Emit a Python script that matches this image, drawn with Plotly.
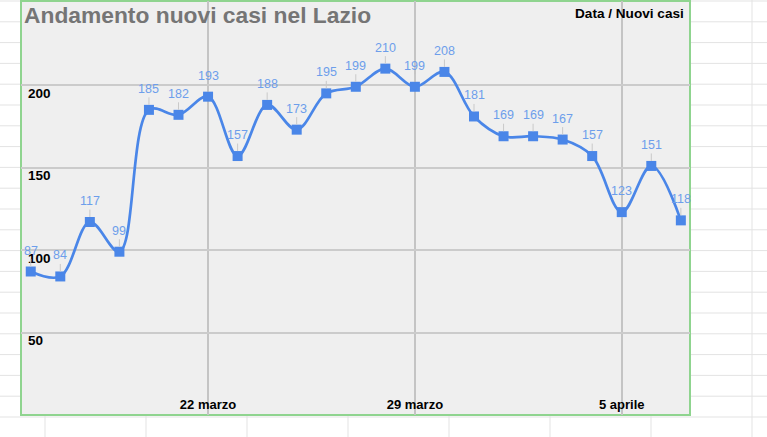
import plotly.graph_objects as go

# ---- data ----
dates = ["2020-03-16", "2020-03-17", "2020-03-18", "2020-03-19", "2020-03-20", "2020-03-21",
         "2020-03-22", "2020-03-23", "2020-03-24", "2020-03-25", "2020-03-26", "2020-03-27",
         "2020-03-28", "2020-03-29", "2020-03-30", "2020-03-31", "2020-04-01", "2020-04-02",
         "2020-04-03", "2020-04-04", "2020-04-05", "2020-04-06", "2020-04-07"]
new_cases = [87, 84, 117, 99, 185, 182, 193, 157, 188, 173, 195, 199,
             210, 199, 208, 181, 169, 169, 167, 157, 123, 151, 118]
x_tick_vals = ["2020-03-22", "2020-03-29", "2020-04-05"]
x_tick_text = ["22 marzo", "29 marzo", "5 aprile"]
y_tick_vals = [50, 100, 150, 200]
y_tick_text = ["50", "100", "150", "200"]

title_text = "Andamento nuovi casi nel Lazio"
corner_text = "Data / Nuovi casi"

# ---- layout geometry (pixels) ----
W, H = 767, 437
PL, PR, PT, PB = 21, 690, 1, 415  # chart/plot area
pw, ph = PR - PL, PB - PT


def px_x(x):
    return (x - PL) / pw


def px_y(y):
    return (PB - y) / ph


FONT = "Liberation Sans, Arial, sans-serif"
BLUE = "#4a86e8"

fig = go.Figure()
fig.add_trace(go.Scatter(
    x=dates, y=new_cases, mode="lines+markers",
    line=dict(color=BLUE, width=2.7, shape="spline", smoothing=1),
    marker=dict(symbol="square", size=10, color=BLUE),
    hoverinfo="skip", showlegend=False,
))

# data labels with leader lines
for d, v in zip(dates, new_cases):
    fig.add_annotation(
        x=d, y=v, text=str(v), showarrow=True, arrowhead=0, arrowwidth=1,
        arrowcolor="#c9c9c9", ax=0, ay=-21, standoff=5,
        font=dict(family=FONT, size=12.5, color="#6d9eeb"),
    )

# spreadsheet background grid
shapes = []
grid_color = "#e3e3e3"
col_x = [45 + 101 * i for i in range(8)]
row_y = [1 + 20.8 * i for i in range(22)]
for cx in col_x:
    shapes.append(dict(type="line", xref="paper", yref="paper",
                       x0=px_x(cx), x1=px_x(cx), y0=px_y(-5), y1=px_y(H + 5),
                       line=dict(color=grid_color, width=1), layer="below"))
for ry in row_y:
    shapes.append(dict(type="line", xref="paper", yref="paper",
                       x0=px_x(-5), x1=px_x(W + 5), y0=px_y(ry), y1=px_y(ry),
                       line=dict(color=grid_color, width=1), layer="below"))
# chart box
shapes.append(dict(type="rect", xref="paper", yref="paper", x0=0, x1=1, y0=0, y1=1,
                   fillcolor="#efefef", line=dict(color="#8fd48f", width=2), layer="below"))

# corner text
fig.add_annotation(xref="paper", yref="paper", x=px_x(686), y=px_y(13),
                   xanchor="right", yanchor="middle", showarrow=False,
                   text=corner_text,
                   font=dict(family=FONT, size=13.6, color="#000000", weight="bold"))

fig.update_layout(
    width=W, height=H,
    margin=dict(l=PL, r=W - PR, t=PT, b=H - PB),
    paper_bgcolor="white", plot_bgcolor="rgba(0,0,0,0)",
    shapes=shapes,
    title=dict(text=title_text, xref="container", yref="container",
               x=24 / W, y=1 - 15 / H, xanchor="left", yanchor="middle",
               font=dict(family=FONT, size=22.8, color="#757575", weight="bold")),
    xaxis=dict(type="date", range=["2020-03-15 16:05", "2020-04-07 07:26"],
               tickmode="array", tickvals=x_tick_vals, ticktext=x_tick_text,
               ticklabelposition="inside", showgrid=True, gridcolor="#c4c4c4",
               gridwidth=1.5, zeroline=False, showline=False, ticks="",
               tickfont=dict(family=FONT, size=13, color="#000000", weight="bold")),
    yaxis=dict(range=[0, 251], tickmode="array", tickvals=y_tick_vals, ticktext=y_tick_text,
               ticklabelposition="inside", ticklabelshift=8, ticklabelstandoff=4,
               showgrid=True, gridcolor="#cbcbcb", gridwidth=1.5,
               zeroline=False, showline=False, ticks="",
               tickfont=dict(family=FONT, size=13.5, color="#000000", weight="bold")),
    hovermode=False,
)

fig.write_html("out.html")
